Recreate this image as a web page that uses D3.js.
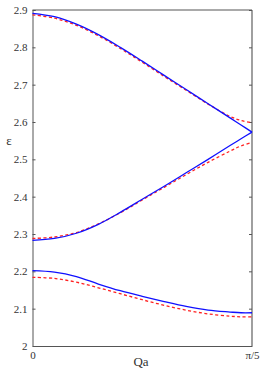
<!DOCTYPE html>
<html>
<head>
<meta charset="utf-8">
<script src="https://cdn.jsdelivr.net/npm/d3@7"></script>
<style>
  body { margin: 0; background: #fff; }
</style>
</head>
<body>
<div id="chart"></div>
<script>
// Sample positions along Qa, as fraction of pi/5
const qaFrac = [0, 0.1, 0.2, 0.3, 0.4, 0.5, 0.6, 0.7, 0.8, 0.9, 0.95, 1.0];

// Solid blue bands
const blueUpper  = [2.891, 2.882, 2.862, 2.834, 2.800, 2.763, 2.725, 2.687, 2.649, 2.611, 2.592, 2.573];
const blueMiddle = [2.283, 2.288, 2.302, 2.326, 2.358, 2.393, 2.428, 2.464, 2.500, 2.537, 2.555, 2.573];
const blueLower  = [2.202, 2.198, 2.186, 2.166, 2.148, 2.133, 2.119, 2.106, 2.096, 2.091, 2.089, 2.089];

// Dashed red bands
const redUpper  = [2.887, 2.878, 2.859, 2.831, 2.797, 2.760, 2.722, 2.685, 2.648, 2.615, 2.604, 2.598];
const redMiddle = [2.288, 2.292, 2.304, 2.327, 2.357, 2.391, 2.425, 2.459, 2.492, 2.522, 2.536, 2.545];
const redLower  = [2.184, 2.181, 2.171, 2.156, 2.140, 2.124, 2.109, 2.096, 2.086, 2.080, 2.078, 2.078];

const yTicks = [2, 2.1, 2.2, 2.3, 2.4, 2.5, 2.6, 2.7, 2.8, 2.9];
const xTicks = [0, Math.PI / 5];
const xTickLabels = ["0", "π/5"];

const W = 266, H = 371;
const margin = {top: 10, right: 14, bottom: 25, left: 32.5};
const serif = '"Liberation Serif"';

const svg = d3.select("#chart").append("svg")
  .attr("width", W).attr("height", H);

const x = d3.scaleLinear().domain([0, Math.PI / 5]).range([margin.left, W - margin.right]);
const y = d3.scaleLinear().domain([2, 2.9]).range([H - margin.bottom, margin.top]);

// frame
const axisColor = "#555";
svg.append("line").attr("x1", x(0)).attr("x2", x(Math.PI / 5))
  .attr("y1", y(2.9)).attr("y2", y(2.9)).attr("stroke", axisColor);
svg.append("line").attr("x1", x(Math.PI / 5)).attr("x2", x(Math.PI / 5))
  .attr("y1", y(2.9)).attr("y2", y(2)).attr("stroke", "#888").attr("stroke-width", 1.6);

// left axis, ticks pointing inward
const yAxis = svg.append("g")
  .attr("transform", `translate(${x(0)},0)`)
  .call(d3.axisLeft(y).tickValues(yTicks).tickSize(-3).tickPadding(5)
    .tickFormat(d => d === 2 ? "2" : d3.format(".1f")(d)));
yAxis.select(".domain").attr("stroke", axisColor);
yAxis.selectAll(".tick line").attr("stroke", axisColor);
yAxis.selectAll("text").style("font-family", serif).style("font-size", "11px").attr("fill", "#333");

// right axis ticks, no labels
const yAxisR = svg.append("g")
  .attr("transform", `translate(${x(Math.PI / 5)},0)`)
  .call(d3.axisRight(y).tickValues(yTicks).tickSize(-3).tickFormat(""));
yAxisR.select(".domain").remove();
yAxisR.selectAll(".tick line").attr("stroke", axisColor);

// bottom axis
const xAxis = svg.append("g")
  .attr("transform", `translate(0,${y(2)})`)
  .call(d3.axisBottom(x).tickValues(xTicks).tickSize(0).tickPadding(5)
    .tickFormat((d, i) => xTickLabels[i]));
xAxis.select(".domain").attr("stroke", axisColor);
xAxis.selectAll("text").style("font-family", serif).style("font-size", "11px").attr("fill", "#333");

// axis titles
svg.append("text").attr("x", 141).attr("y", 366)
  .attr("text-anchor", "middle").style("font-family", serif).style("font-size", "13px")
  .attr("fill", "#333").text("Qa");
svg.append("text").attr("x", 9).attr("y", 145)
  .attr("text-anchor", "middle").style("font-family", serif).style("font-size", "13px")
  .attr("fill", "#333").text("ε");

const line = d3.line()
  .x((d, i) => x(qaFrac[i] * Math.PI / 5))
  .y(d => y(d))
  .curve(d3.curveCatmullRom);

[redUpper, redMiddle, redLower].forEach(s => {
  svg.append("path").datum(s)
    .attr("fill", "none").attr("stroke", "#ff2020")
    .attr("stroke-width", 1.3).attr("stroke-dasharray", "3,2.5")
    .attr("d", line);
});

[blueUpper, blueMiddle, blueLower].forEach(s => {
  svg.append("path").datum(s)
    .attr("fill", "none").attr("stroke", "#1010ff")
    .attr("stroke-width", 1.3)
    .attr("d", line);
});
</script>
</body>
</html>
